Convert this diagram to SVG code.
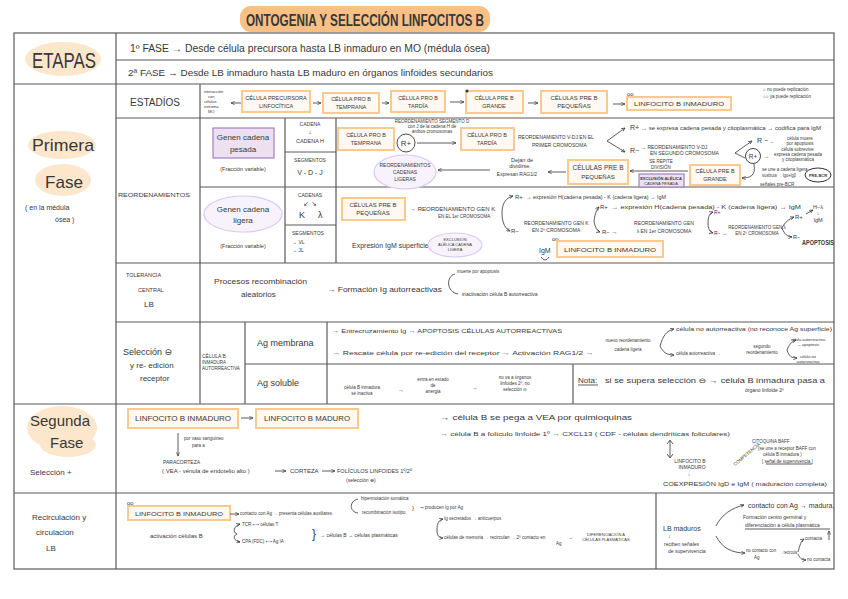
<svg xmlns="http://www.w3.org/2000/svg" width="848" height="599" viewBox="0 0 848 599">
<style>
text{font-family:"Liberation Sans","DejaVu Sans",sans-serif;fill:#383838}
.c{text-anchor:middle}
.grid{stroke:#5a5a5a;stroke-width:1.2;fill:none}
.box{fill:#fff9f1;stroke:#f9c98e;stroke-width:2}
.pbox{fill:#ece0f1;stroke:#a77ec0;stroke-width:1.2}
.ell{fill:#f8f2fd;stroke:#dcc8f0;stroke-width:1.2}
.blob{fill:#fde7cc}
.ln{stroke:#333;stroke-width:0.8;fill:none}
.la{stroke:#333;stroke-width:0.8;fill:none;marker-end:url(#ah)}
.s4{font-size:4.5px}.s5{font-size:5px}.s55{font-size:5.5px}.s6{font-size:6px}.s65{font-size:6.5px}.s7{font-size:7px}.s8{font-size:8px}.s9{font-size:9px}
</style>
<defs>
<marker id="ah" viewBox="0 0 6 6" refX="5.5" refY="3" markerWidth="5" markerHeight="5" orient="auto"><path d="M0,0.5 L5.5,3 L0,5.5" fill="none" stroke="#333" stroke-width="1"/></marker>
</defs>
<rect width="848" height="599" fill="#ffffff"/>

<g id="title">
<rect x="240" y="6" width="250" height="26" rx="11" fill="#f9c085"/>
<text x="246" y="26" font-size="17" font-weight="bold" textLength="238" lengthAdjust="spacingAndGlyphs">ONTOGENIA Y SELECCIÓN  LINFOCITOS B</text>
</g>

<g id="table">
<rect x="14" y="33" width="820" height="536" class="grid"/>
<path class="grid" d="M14,84H834 M116,60H834 M116,118H834 M116,263H834 M116,322H834 M14,404H834 M14,493H834 M200,187H834 M285,152H336 M285,225H336 M245,364H834 M116,33V569 M200,84V404 M285,118V263 M336,118V263 M245,322V404 M327,322V404 M573,364V404 M656,493V569"/>
</g>

<g id="etapas">
<ellipse cx="63" cy="59" rx="38" ry="17" class="blob"/>
<text x="32" y="68" font-size="22" textLength="64" lengthAdjust="spacingAndGlyphs">ETAPAS</text>
<text x="130" y="52" font-size="10" textLength="360" lengthAdjust="spacingAndGlyphs">1º FASE → Desde célula precursora hasta LB inmaduro en MO (médula ósea)</text>
<text x="128" y="76" font-size="9" textLength="365" lengthAdjust="spacingAndGlyphs">2ª FASE → Desde LB inmaduro hasta LB maduro en órganos linfoides secundarios</text>
</g>

<g id="primera-fase">
<ellipse cx="62" cy="145" rx="34" ry="14" class="blob"/>
<ellipse cx="63" cy="180" rx="28" ry="16" class="blob"/>
<text x="32" y="151" font-size="17" textLength="62" lengthAdjust="spacingAndGlyphs">Primera</text>
<text x="45" y="188" font-size="17" textLength="38" lengthAdjust="spacingAndGlyphs">Fase</text>
<text x="25" y="210" class="s7">( en la médula</text>
<text x="55" y="222" class="s7">ósea )</text>
</g>

<g id="estadios">
<text x="130" y="106" font-size="10" textLength="50" lengthAdjust="spacingAndGlyphs">ESTADÍOS</text>
<text x="204" y="93" font-size="4">interacción</text>
<text x="208" y="98" font-size="4">con</text>
<text x="204" y="103" font-size="4">células</text>
<text x="204" y="108" font-size="4">estroma</text>
<text x="208" y="113" font-size="4">MO</text>
<g id="s-precursora"><rect x="242" y="91" width="68" height="21" class="box"/><text x="276" y="100" class="c s55">CÉLULA PRECURSORA</text><text x="276" y="108" class="c s55">LINFOCÍTICA</text></g>
<g id="s-protemprana"><rect x="323" y="93" width="56" height="20" class="box"/><text x="351" y="101" class="c s55">CÉLULA PRO B</text><text x="351" y="109" class="c s55">TEMPRANA</text></g>
<g id="s-protardia"><rect x="391" y="91" width="54" height="21" class="box"/><text x="418" y="100" class="c s55">CÉLULA PRO B</text><text x="418" y="108" class="c s55">TARDÍA</text></g>
<g id="s-pregrande"><rect x="466" y="91" width="57" height="22" class="box"/><circle cx="467" cy="91" r="1.5" fill="#333"/><text x="494" y="100" class="c s55">CÉLULA PRE B</text><text x="494" y="108" class="c s55">GRANDE</text></g>
<g id="s-prepeq"><rect x="541" y="91" width="66" height="22" class="box"/><text x="574" y="100" class="c s6">CÉLULAS PRE B</text><text x="574" y="108" class="c s6">PEQUEÑAS</text></g>
<g id="s-inmaduro"><rect x="627" y="97" width="104" height="13" class="box"/><text x="679" y="106" class="c s6" textLength="90" lengthAdjust="spacingAndGlyphs">LINFOCITO  B  INMADURO</text><text x="627" y="96" class="s6">oo</text></g>
<text x="763" y="91" class="s4">○ no puede replicación</text>
<text x="763" y="98" class="s4">○○ ya puede replicación</text>
</g>

<g id="reordenamientos">
<text x="118" y="197" class="s6" textLength="72" lengthAdjust="spacingAndGlyphs">REORDENAMIENTOS</text>
<g id="gen-pesada"><rect x="213" y="128" width="61" height="30" class="pbox"/><text x="243" y="140" class="c s8">Genen cadena</text><text x="243" y="152" class="c s8">pesada</text></g>
<text x="243" y="171" class="c s55">(Fracción variable)</text>
<g id="gen-ligera"><ellipse cx="243" cy="214" rx="39" ry="18" class="ell"/><text x="243" y="212" class="c s8">Genen cadena</text><text x="243" y="223" class="c s8">ligera</text></g>
<text x="243" y="248" class="c s55">(Fracción variable)</text>
<text x="310" y="126" class="c s5">CADENA</text>
<text x="310" y="134" class="c s6">↓</text>
<text x="310" y="143" class="c s55">CADENA H</text>
<text x="310" y="162" class="c s5">SEGMENTOS</text>
<text x="310" y="175" class="c s7">V - D - J</text>
<text x="310" y="197" class="c s5">CADENAS</text>
<text x="310" y="206" class="c s7">↙  ↘</text>
<text x="299" y="218" class="s9">K</text>
<text x="318" y="218" class="s9">λ</text>
<text x="292" y="235" class="s5">SEGMENTOS</text>
<text x="292" y="244" class="s5">→ VL</text>
<text x="292" y="252" class="s5">→ JL</text>
</g>

<g id="cadena-pesada">
<g id="h-protemprana"><rect x="338" y="128" width="56" height="22" class="box"/><text x="366" y="137" class="c s55">CÉLULA PRO B</text><text x="366" y="145" class="c s55">TEMPRANA</text></g>
<text x="432" y="123" class="c s4">REORDENAMIENTO SEGMENTO D</text>
<text x="432" y="128" class="c s4">con J de la cadena H de</text>
<text x="432" y="133" class="c s4">ambos cromosomas</text>
<circle cx="406" cy="143" r="9" fill="none" stroke="#333" stroke-width="0.9"/>
<text x="406" y="146" class="c s8">R+</text>
<g id="h-protardia"><rect x="461" y="128" width="53" height="22" class="box"/><text x="487" y="137" class="c s55">CÉLULA PRO B</text><text x="487" y="145" class="c s55">TARDÍA</text></g>
<text x="518" y="139" class="s5">REORDENAMIENTO V-DJ EN EL</text>
<text x="532" y="147" class="s5">PRIMER CROMOSOMA</text>
<text x="630" y="130" class="s7">R+</text>
<text x="641" y="130" class="s5" textLength="180" lengthAdjust="spacingAndGlyphs">→ se expresa cadena pesada y citoplasmática → codifica para IgM</text>
<text x="630" y="153" class="s7">R−</text>
<text x="641" y="149" class="s5">→ REORDENAMIENTO V-DJ</text>
<text x="650" y="155" class="s5">EN SEGUNDO CROMOSOMA</text>
<text x="757" y="143" class="s7">R −</text>
<text x="769" y="143" class="s5">→</text>
<text x="800" y="140" class="c s4">célula muere</text>
<text x="800" y="145" class="c s4">por apoptosis</text>
<circle cx="753" cy="156" r="7.5" fill="none" stroke="#333" stroke-width="0.9"/>
<text x="753" y="158.5" class="c s65">R+</text>
<text x="764" y="158" class="s5">→</text>
<text x="798" y="151" class="c s4">célula sobrevive:</text>
<text x="798" y="156" class="c s4">expresa cadena pesada</text>
<text x="798" y="161" class="c s4">y citoplasmática</text>
<text x="762" y="171" class="s4">se une a cadena ligera</text>
<text x="762" y="177" class="s4" textLength="39" lengthAdjust="spacingAndGlyphs">sustituta → Igα+Igβ →</text>
<g id="prebcr"><ellipse cx="818" cy="175" rx="13" ry="7" fill="none" stroke="#333" stroke-width="1"/><text x="818" y="177" class="c" font-size="4" font-weight="bold">PRE-BCR</text></g>
<text x="760" y="186" class="s4">señales pre-BCR</text>
<g id="h-pregrande"><rect x="690" y="165" width="50" height="20" class="box"/><text x="715" y="173" class="c s55">CÉLULA PRE B</text><text x="715" y="181" class="c s55">GRANDE</text></g>
<text x="661" y="163" class="c s4">SE REPITE</text>
<text x="661" y="168.5" class="c s4">DIVISIÓN</text>
<g id="excl-pesada"><rect x="639" y="174" width="45" height="13" class="pbox"/><text x="661" y="180" class="c" font-size="4" font-weight="bold">EXCLUSIÓN ALÉLICA</text><text x="661" y="185" class="c" font-size="4">CADENA PESADA</text></g>
<g id="h-prepeq"><rect x="568" y="160" width="60" height="24" class="box"/><text x="598" y="170" class="c s65">CÉLULAS PRE B</text><text x="598" y="179" class="c s6">PEQUEÑAS</text></g>
<text x="522" y="162" class="c s55">Dejan de</text>
<text x="520" y="168" class="c s55">dividirse.</text>
<text x="517" y="176" class="c s5">Expresan RAG1/2</text>
<g id="reord-ligeras"><ellipse cx="405" cy="172" rx="31" ry="17" class="ell"/><text x="405" y="167" class="c s5">REORDENAMIENTOS</text><text x="405" y="174" class="c s5">CADENAS</text><text x="405" y="181" class="c s5">LIGERAS</text></g>
</g>

<g id="cadena-ligera">
<g id="l-prepeq"><rect x="342" y="198" width="63" height="22" class="box"/><text x="373" y="207" class="c s6">CÉLULAS PRE B</text><text x="373" y="215" class="c s6">PEQUEÑAS</text></g>
<text x="410" y="211" class="s6">→ REORDENAMIENTO GEN K</text>
<text x="438" y="218" class="s4">EN EL 1er CROMOSOMA</text>
<text x="515" y="199" class="s6">R+</text>
<text x="526" y="199" class="s5" textLength="140" lengthAdjust="spacingAndGlyphs">→ expresión  H(cadena pesada) - K (cadena ligera)  →  IgM</text>
<text x="511" y="233" class="s6">R−</text>
<text x="524" y="225" class="s5">REORDENAMIENTO GEN K</text>
<text x="532" y="232" class="s5">EN 2º CROMOSOMA</text>
<text x="600" y="209" class="s6">R+</text>
<text x="611" y="209" class="s5" textLength="190" lengthAdjust="spacingAndGlyphs">→ expresión  H(cadena pesada) - K (cadena ligera)  →  IgM</text>
<text x="602" y="234" class="s6">R− →</text>
<text x="664" y="225" class="c s5">REORDENAMIENTO GEN</text>
<text x="664" y="233" class="c s5">λ EN 1er CROMOSOMA</text>
<text x="714" y="214" class="s5">R+</text>
<text x="714" y="235" class="s5">R− →</text>
<text x="757" y="229" class="c s4">REORDENAMIENTO GEN λ</text>
<text x="757" y="235" class="c s4">EN 2º CROMOSOMA</text>
<text x="795" y="219" class="s6">R+</text>
<text x="818" y="209" class="c s55">H−λ</text>
<text x="818" y="215" class="c s5">↓</text>
<text x="818" y="222" class="c s55">IgM</text>
<text x="793" y="239" class="s55">R−</text>
<text x="802" y="245" class="s7" font-weight="bold" textLength="32" lengthAdjust="spacingAndGlyphs">APOPTOSIS</text>
<text x="352" y="248" class="s7">Expresión  IgM  superficie →</text>
<g id="excl-ligera"><ellipse cx="455" cy="245" rx="27" ry="12" class="ell"/><text x="455" y="241" class="c" font-size="4">EXCLUSIÓN</text><text x="455" y="246" class="c" font-size="4">ALÉLICA CADENA</text><text x="455" y="251" class="c" font-size="4">LIGERA</text></g>
<text x="539" y="253" class="s7">IgM</text>
<path class="ln" d="M541,257 Q545,263 549,257"/>
<text x="552" y="241" class="s6">oo</text>
<g id="l-inmaduro"><rect x="557" y="241" width="106" height="16" class="box"/><text x="610" y="252" class="c s6" textLength="92" lengthAdjust="spacingAndGlyphs">LINFOCITO  B  INMADURO</text></g>
</g>

<g id="tolerancia">
<text x="126" y="277" class="s55">TOLERANCIA</text>
<text x="138" y="292" class="s55">CENTRAL</text>
<text x="144" y="307" class="s8">LB</text>
<text x="214" y="284" class="s8" textLength="93" lengthAdjust="spacingAndGlyphs">Procesos recombinación</text>
<text x="241" y="297" class="s8">aleatorios</text>
<text x="327" y="292" class="s8" textLength="115" lengthAdjust="spacingAndGlyphs">→ Formación  Ig  autorreactivas</text>
<text x="457" y="273" class="s4">muerte por apoptosis</text>
<text x="462" y="296" class="s5">inactivación célula B autorreactiva</text>
</g>

<g id="seleccion">
<text x="123" y="355" class="s9">Selección ⊖</text>
<text x="130" y="368" class="s8">y re- edición</text>
<text x="140" y="381" class="s8">receptor</text>
<text x="202" y="358" class="s5">CÉLULA B</text>
<text x="202" y="364" class="s4">INMADURA</text>
<text x="202" y="370" class="s4">AUTORREACTIVA</text>
<text x="257" y="346" class="s9">Ag membrana</text>
<text x="257" y="386" class="s9">Ag soluble</text>
<text x="332" y="333" class="s6" textLength="230" lengthAdjust="spacingAndGlyphs">→ Entrecruzamiento  Ig  →  APOPTOSIS  CÉLULAS AUTORREACTIVAS</text>
<text x="332" y="355" class="s6" textLength="262" lengthAdjust="spacingAndGlyphs">→ Rescate  célula  por  re-edición  del  receptor  →  Activación  RAG1/2 →</text>
<text x="628" y="342" class="c s4">nuevo reordenamiento</text>
<text x="628" y="351" class="c s4">cadena ligera</text>
<text x="676" y="331" class="s5" textLength="156" lengthAdjust="spacingAndGlyphs">célula no autorreactiva  (no reconoce Ag superficie)</text>
<text x="676" y="355" class="s4">célula autorreactiva →</text>
<text x="762" y="348" class="c s4">segundo</text>
<text x="762" y="354" class="c s4">reordenamiento</text>
<text x="808" y="341" class="c" font-size="4">célula autorreactiva</text>
<text x="808" y="346" class="c" font-size="4">→ apoptosis</text>
<text x="808" y="358" class="c" font-size="4">célula no</text>
<text x="808" y="363" class="c" font-size="4">autorreactiva</text>
<text x="362" y="389" class="c s4">célula B inmadura</text>
<text x="362" y="395" class="c s4">se inactiva</text>
<text x="398" y="392" class="s6">→</text>
<text x="433" y="381" class="c s4">entra en estado</text>
<text x="433" y="387" class="c s4">de</text>
<text x="433" y="393" class="c s4">anergia</text>
<text x="472" y="390" class="s6">→</text>
<text x="515" y="379" class="c s4">no va a órganos</text>
<text x="515" y="385" class="c s4">linfoides 2º, no</text>
<text x="515" y="391" class="c s4">selección ⊖</text>
<text x="578" y="383" class="s8">Nota:</text>
<path class="ln" d="M578,385H598"/>
<text x="605" y="383" class="s7" textLength="220" lengthAdjust="spacingAndGlyphs">si  se  supera  selección ⊖  →  célula  B  inmadura  pasa  a</text>
<text x="745" y="392" class="s5">órgano linfoide 2º</text>
</g>

<g id="segunda-fase">
<ellipse cx="62" cy="428" rx="35" ry="22" class="blob"/>
<ellipse cx="68" cy="445" rx="28" ry="12" class="blob"/>
<text x="30" y="426" font-size="15">Segunda</text>
<text x="50" y="448" font-size="15">Fase</text>
<text x="30" y="475" class="s8">Selección  +</text>
<g id="sf-inmaduro"><rect x="128" y="409" width="110" height="19" class="box"/><text x="183" y="421" class="c s7" textLength="96" lengthAdjust="spacingAndGlyphs">LINFOCITO  B  INMADURO</text></g>
<g id="sf-maduro"><rect x="256" y="409" width="102" height="19" class="box"/><text x="307" y="421" class="c s7" textLength="86" lengthAdjust="spacingAndGlyphs">LINFOCITO  B  MADURO</text></g>
<text x="184" y="440" class="s4">por vaso sanguíneo</text>
<text x="192" y="447" class="s4">para a</text>
<text x="163" y="464" class="s5">PARACORTEZA</text>
<text x="162" y="473" class="s6">( VEA - vénula de endotelio alto )</text>
<text x="290" y="473" class="s6">CORTEZA</text>
<text x="337" y="473" class="s55">FOLÍCULOS LINFOIDES 1º/2º</text>
<text x="346" y="482" class="s5">(selección ⊕)</text>
<text x="440" y="420" class="s7" textLength="192" lengthAdjust="spacingAndGlyphs">→  célula  B  se pega  a  VEA  por  quimioquinas</text>
<text x="440" y="436" class="s6" textLength="290" lengthAdjust="spacingAndGlyphs">→  célula  B  a  folículo  linfoide  1º  →  CXCL13  ( CDF - células  dendríticas  foliculares)</text>
<text x="690" y="463" class="c s5">LINFOCITO B</text>
<text x="692" y="469" class="c s5">INMADURO</text>
<text x="689" y="476" class="c s5">↓</text>
<text x="663" y="486" class="s55" textLength="164" lengthAdjust="spacingAndGlyphs">COEXPRESIÓN  IgD e IgM   ( maduración completa)</text>
<text x="735" y="466" class="s4" transform="rotate(-40 735 466)">COMPETENCIA</text>
<text x="752" y="443" class="s4">CITOQUINA BAFF</text>
<text x="758" y="450" class="s4">(se une a receptor BAFF con</text>
<text x="763" y="456" class="s4">célula B inmadura )</text>
<text x="762" y="463" class="s4">[ señal de supervivencia ]</text>
<path class="ln" d="M766,464H812"/>
</g>

<g id="recirculacion">
<text x="32" y="520" class="s8">Recirculación  y</text>
<text x="36" y="535" class="s8">circulación</text>
<text x="46" y="551" class="s8">LB</text>
<text x="127" y="505" class="s6">oo</text>
<g id="rc-inmaduro"><rect x="128" y="506" width="102" height="14" class="box"/><text x="179" y="516" class="c s6" textLength="88" lengthAdjust="spacingAndGlyphs">LINFOCITO  B  INMADURO</text></g>
<text x="240" y="515" class="s4">contacto con Ag → presenta células auxiliares</text>
<text x="361" y="500" class="s4">hipermutación somática</text>
<text x="362" y="514" class="s4">recombinación isotipo</text>
<text x="412" y="510" class="s6">}</text>
<text x="420" y="509" class="s4">⇒ producen Ig por Ag</text>
<text x="150" y="538" class="s6">activación  células  B</text>
<text x="242" y="526" class="s4">TCR ⟷ células T</text>
<text x="242" y="543" class="s4">CPA (FDC) ⟷ Ag IA</text>
<text x="312" y="538" font-size="12">}</text>
<text x="320" y="537" class="s5">→ células B → células plasmáticas</text>
<text x="444" y="520" class="s4">Ig secretados → anticuerpos</text>
<text x="444" y="539" class="s4">células de memoria → recirculan → 2º contacto en</text>
<text x="556" y="545" class="s4">Ag</text>
<text x="568" y="539" class="s5">→</text>
<text x="606" y="536" class="c" font-size="4">DIFERENCIACIÓN A</text>
<text x="606" y="541" class="c" font-size="4">CÉLULAS PLASMÁTICAS</text>
<text x="663" y="531" class="s7">LB maduros</text>
<text x="668" y="538" class="s5">↓</text>
<text x="664" y="546" class="s5">reciben señales</text>
<text x="668" y="553" class="s5">de supervivencia</text>
<text x="748" y="508" class="s7">contacto con Ag → madura,</text>
<text x="743" y="519" class="s5">Formación centro germinal y</text>
<text x="745" y="527" class="s5">diferenciación a célula plasmática</text>
<path class="ln" d="M745,529H830"/>
<text x="746" y="552" class="s4" textLength="30" lengthAdjust="spacingAndGlyphs">no contacto con</text>
<text x="754" y="559" class="s4">Ag</text>
<text x="779" y="554" class="s4" textLength="18" lengthAdjust="spacingAndGlyphs">→ recircula</text>
<text x="805" y="540" class="s4">contacta</text>
<text x="807" y="561" class="s4">no contacta</text>
</g>

<g id="connectors">
<line class="la" x1="241" y1="103" x2="231" y2="103"/>
<line class="la" x1="313" y1="103" x2="321" y2="103"/>
<line class="la" x1="382" y1="103" x2="389" y2="103"/>
<line class="la" x1="450" y1="102" x2="464" y2="102"/>
<line class="la" x1="528" y1="103" x2="538" y2="103"/>
<line class="la" x1="613" y1="104" x2="625" y2="104"/>
<line class="la" x1="417" y1="143" x2="456" y2="143"/>
<path class="la" d="M607,141 L625,128"/>
<path class="la" d="M607,141 L625,152"/>
<path class="la" d="M735,153 L752,141"/>
<path class="ln" d="M735,153 L745,158"/>
<path class="la" d="M754,164 C756,176 750,178 742,178"/>
<line class="la" x1="688" y1="171" x2="630" y2="171"/>
<line class="la" x1="566" y1="172" x2="548" y2="172"/>
<line class="la" x1="490" y1="170" x2="438" y2="170"/>
<path class="la" d="M502,213 C502,203 506,198 513,196"/>
<path class="la" d="M502,213 C502,224 506,229 510,231"/>
<path class="la" d="M594,221 C595,213 597,209 599,207"/>
<path class="la" d="M594,221 C595,227 597,231 600,232"/>
<path class="la" d="M708,223 C708,216 710,213 713,212"/>
<path class="la" d="M708,223 C708,229 710,232 713,233"/>
<path class="la" d="M782,228 C785,222 789,219 794,217"/>
<path class="la" d="M782,228 C784,234 788,237 792,237"/>
<path class="la" d="M806,214 L813,210"/>
<path class="ln" d="M455,274 C446,276 446,292 458,294"/>
<path class="la" d="M660,346 C663,336 666,331 674,329"/>
<path class="la" d="M660,346 C663,352 666,355 674,355"/>
<path class="la" d="M787,350 C789,345 791,342 796,340"/>
<path class="la" d="M787,350 C789,356 791,358 797,358"/>
<line class="la" x1="241" y1="418" x2="253" y2="418"/>
<line class="la" x1="178" y1="433" x2="178" y2="456"/>
<line class="la" x1="275" y1="471" x2="286" y2="471"/>
<line class="la" x1="322" y1="471" x2="335" y2="471"/>
<path class="ln" d="M670,441V457"/>
<path class="ln" d="M667,444L670,440L673,444 M667,454L670,458L673,454"/>
<line class="la" x1="230" y1="514" x2="239" y2="514"/>
<path class="ln" d="M358,499 C349,501 349,512 358,513"/>
<path class="la" d="M237,534 C232,532 234,526 240,524"/>
<path class="la" d="M237,534 C232,536 234,541 240,542"/>
<path class="la" d="M437,530 C437,523 439,520 443,519"/>
<path class="la" d="M437,530 C437,536 439,538 443,538"/>
<path class="la" d="M716,526 C722,514 732,508 744,505"/>
<path class="la" d="M716,536 C722,548 732,553 745,553"/>
<path class="la" d="M798,552 C800,545 801,541 804,539"/>
<path class="la" d="M798,554 C800,558 801,560 806,560"/>
<line class="la" x1="829" y1="540" x2="829" y2="531"/>
</g>
</svg>
